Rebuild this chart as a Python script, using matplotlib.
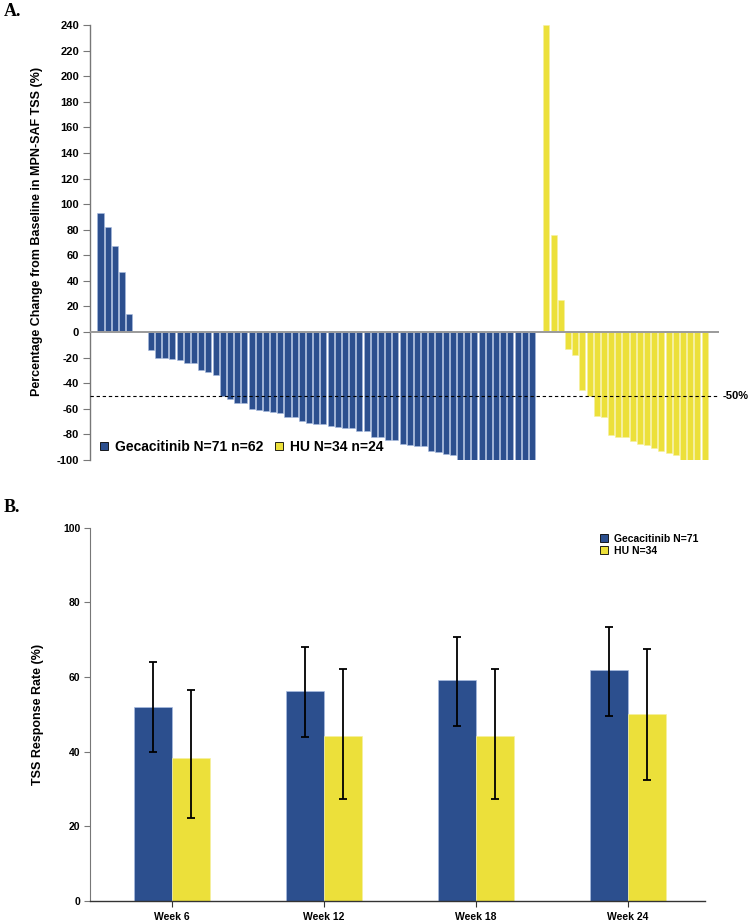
import numpy as np
import matplotlib.pyplot as plt
from matplotlib.patches import Patch
from matplotlib.transforms import blended_transform_factory

plt.rcParams['font.family'] = ['Liberation Sans', 'DejaVu Sans']
plt.rcParams['axes.unicode_minus'] = False

# Panel A: percent change in TSS per patient (waterfall)
geca_change = [93, 82, 67, 47, 14, 0, 0,
               -14, -20, -20, -21, -22, -24, -24, -30, -31, -33.5,
               -50, -52.5, -55.5, -55.5, -60, -61, -62, -62.5, -63,
               -66.7, -66.7, -69.5, -70.8, -71.5, -72,
               -73.6, -74.1, -75.2, -75.2, -77.2, -77.2, -82.4, -82.4,
               -84.4, -84.4, -87.5, -88, -89, -89, -93, -93.7, -95.2, -95.8,
               -100, -100, -100, -100, -100, -100, -100, -100, -100, -100, -100]
hu_change = [240, 75.5, 25, -13, -18, -45, -50, -65.5, -66.7, -80.3,
             -82, -82, -85, -87.8, -88.3, -91, -93, -94.5, -96.3,
             -100, -100, -100, -100]
label_a = ['Gecacitinib N=71 n=62', 'HU N=34 n=24']

# Panel B: TSS response rate by week
weeks = ['Week 6', 'Week 12', 'Week 18', 'Week 24']
geca_rate = [52.0, 56.3, 59.1, 61.9]
geca_lo = [39.9, 44.0, 46.8, 49.6]
geca_hi = [64.1, 68.1, 70.7, 73.3]
hu_rate = [38.2, 44.1, 44.1, 50.0]
hu_lo = [22.2, 27.2, 27.2, 32.4]
hu_hi = [56.4, 62.1, 62.1, 67.6]
label_b = ['Gecacitinib N=71', 'HU N=34']

BLUE = '#2c4f8e'
YELLOW = '#ece03a'
EDGE_B = '#a8bce0'
EDGE_Y = '#f6f0a0'

W, H = 750, 921
fig = plt.figure(figsize=(W / 100, H / 100), dpi=100)

def box(l, t, r, b):
    return [l / W, 1 - b / H, (r - l) / W, (b - t) / H]

# ---------- panel A ----------
ax = fig.add_axes(box(90, 25, 719, 460))
x_geca = np.arange(len(geca_change))
x_hu = np.arange(len(hu_change)) + len(geca_change) + 1
ax.bar(x_geca, geca_change, width=0.84, color=BLUE, edgecolor=EDGE_B, linewidth=0.4, zorder=2)
ax.bar(x_hu, hu_change, width=0.84, color=YELLOW, edgecolor=EDGE_Y, linewidth=0.4, zorder=2)
ax.axhline(0, color='#9a9a9a', lw=1.4, zorder=3)
ax.axhline(-50, color='black', lw=0.8, ls=(0, (3, 2.5)), zorder=4)
tr = blended_transform_factory(ax.transAxes, ax.transData)
ax.text(1.006, -50, '-50%', transform=tr, ha='left', va='center',
        fontsize=8, fontweight='bold')
ax.set_xlim(-1.46, 86.0)
ax.set_ylim(-100, 240)
ax.set_yticks(np.arange(-100, 241, 20))
ax.set_xticks([])
for s in ['top', 'right', 'bottom']:
    ax.spines[s].set_visible(False)
ax.spines['left'].set_color('#777777')
ax.spines['left'].set_linewidth(1.0)
ax.tick_params(axis='y', direction='out', length=5, width=0.8, color='#777777',
               labelsize=8, pad=3)
for t in ax.get_yticklabels():
    t.set_fontweight('bold')
fig.text(37 / W, 1 - 231 / H, 'Percentage Change from Baseline in MPN-SAF TSS (%)',
         rotation=90, ha='center', va='center', fontsize=9, fontweight='bold')
handles = [Patch(facecolor=BLUE, edgecolor='black', lw=0.6),
           Patch(facecolor=YELLOW, edgecolor='black', lw=0.6)]
ax.legend(handles, label_a, loc='center left', bbox_to_anchor=(100 / W, 1 - 447 / H),
          bbox_transform=fig.transFigure, ncol=2, frameon=False, borderpad=0,
          borderaxespad=0, handlelength=0.55, handleheight=0.55, handletextpad=0.5,
          columnspacing=0.9, prop={'size': 10, 'weight': 'bold'})

fig.text(4 / W, 1 - 12 / H, 'A.', fontsize=13, fontweight='bold',
         family='Liberation Serif', ha='left', va='center')

# ---------- panel B ----------
bx = fig.add_axes(box(90, 527.7, 705, 900.7))
xg = np.arange(len(weeks))
bw = 0.25
bx.bar(xg - bw / 2, geca_rate, width=bw, color=BLUE, edgecolor=EDGE_B, linewidth=0.5, zorder=2)
bx.bar(xg + bw / 2, hu_rate, width=bw, color=YELLOW, edgecolor=EDGE_Y, linewidth=0.5, zorder=2)
g_err = [np.subtract(geca_rate, geca_lo), np.subtract(geca_hi, geca_rate)]
h_err = [np.subtract(hu_rate, hu_lo), np.subtract(hu_hi, hu_rate)]
bx.errorbar(xg - bw / 2, geca_rate, yerr=g_err, fmt='none', ecolor='black',
            elinewidth=1.3, capsize=3, capthick=1.3, zorder=3)
bx.errorbar(xg + bw / 2, hu_rate, yerr=h_err, fmt='none', ecolor='black',
            elinewidth=1.3, capsize=3, capthick=1.3, zorder=3)
bx.set_xlim(-0.54, 3.51)
bx.set_ylim(0, 100)
bx.set_yticks(np.arange(0, 101, 20))
bx.set_xticks(xg)
bx.set_xticklabels(weeks)
for s in ['top', 'right']:
    bx.spines[s].set_visible(False)
bx.spines['left'].set_color('#777777')
bx.spines['bottom'].set_color('#333333')
bx.spines['bottom'].set_linewidth(1.0)
bx.tick_params(axis='y', direction='out', length=4, width=0.8, color='#777777',
               labelsize=7.5, pad=3)
bx.tick_params(axis='x', direction='out', length=4, width=0.8, color='#333333',
               labelsize=7.5, pad=4)
for t in bx.get_yticklabels() + bx.get_xticklabels():
    t.set_fontweight('bold')
bx.set_ylabel('TSS Response Rate (%)', fontsize=9, fontweight='bold', labelpad=14)
bx.legend(handles, label_b, loc='upper left', bbox_to_anchor=(600 / W, 1 - 534 / H),
          bbox_transform=fig.transFigure, frameon=False, borderpad=0,
          borderaxespad=0, handlelength=0.8, handleheight=0.8, handletextpad=0.55,
          labelspacing=0.15, prop={'size': 7.5, 'weight': 'bold'})

fig.text(4 / W, 1 - 508 / H, 'B.', fontsize=13, fontweight='bold',
         family='Liberation Serif', ha='left', va='center')

fig.savefig('out.png', dpi=100)
